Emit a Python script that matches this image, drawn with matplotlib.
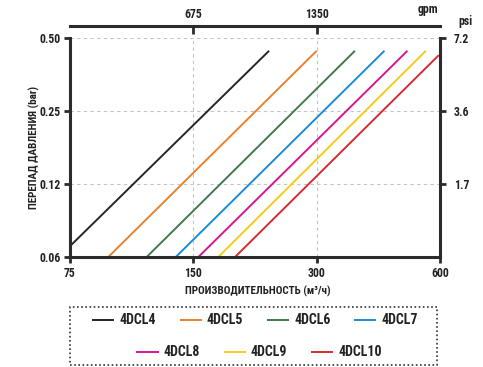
import matplotlib
matplotlib.use("Agg")
import matplotlib.pyplot as plt
from matplotlib.ticker import NullLocator

plt.rcParams['font.family'] = ['Roboto Condensed', 'Liberation Sans Narrow', 'Roboto', 'DejaVu Sans']
plt.rcParams['font.weight'] = 'bold'

# data (flow m3/h, pressure drop bar)
models = ['4DCL4', '4DCL5', '4DCL6', '4DCL7', '4DCL8', '4DCL9', '4DCL10']
q_start = [75.4, 93.0, 115.4, 135.9, 154.3, 172.6, 189.6]
dp_start = [0.0699, 0.0625, 0.0625, 0.0625, 0.0625, 0.0625, 0.0625]
q_end = [229.6, 300.0, 372.0, 439.0, 499.6, 554.0, 596.0]
dp_end = [0.444, 0.444, 0.444, 0.444, 0.444, 0.444, 0.426]
colors = ['#262626', '#e8822e', '#3f7a4c', '#1c8bd6', '#d8168e', '#f4cb1c', '#d62b2e']

x_ticks = [75, 150, 300, 600]
y_ticks = [0.0625, 0.125, 0.25, 0.5]
y_tick_labels = ['0.06', '0.12', '0.25', '0.50']
gpm_ticks = [150, 300]
gpm_labels = ['675', '1350']
psi_ticks = [0.125, 0.25, 0.5]
psi_labels = ['1.7', '3.6', '7.2']

W, H = 483, 367
fs = 8.5
fig = plt.figure(figsize=(W / 100, H / 100), dpi=100)
ax = fig.add_axes([70 / W, 1 - 257 / H, 370 / W, 218.7 / H])

lines = []
for m, x0, y0, x1, y1, c in zip(models, q_start, dp_start, q_end, dp_end, colors):
    ln, = ax.plot([x0, x1], [y0, y1], color=c, lw=1.4, label=m, solid_capstyle='butt')
    lines.append(ln)

spine_c = '#2b2b2b'
ax.set_xscale('log')
ax.set_yscale('log')
ax.set_xlim(75, 600)
ax.set_ylim(0.0625, 0.5)
ax.set_xticks(x_ticks)
ax.set_xticklabels([str(v) for v in x_ticks])
ax.set_yticks(y_ticks)
ax.set_yticklabels(y_tick_labels)
ax.xaxis.set_minor_locator(NullLocator())
ax.yaxis.set_minor_locator(NullLocator())
ax.tick_params(direction='out', length=4, width=2, color=spine_c, labelsize=fs,
               labelcolor='#222222', pad=3)
ax.grid(True, color='#c4c4c4', linestyle=(0, (3, 3)), lw=0.8)
for s in ['left', 'bottom']:
    ax.spines[s].set_linewidth(2.2)
    ax.spines[s].set_color(spine_c)
ax.spines['top'].set_visible(False)
ax.spines['right'].set_visible(False)

# psi axis on the right
axr = ax.twinx()
axr.set_yscale('log')
axr.set_ylim(ax.get_ylim())
axr.set_yticks(psi_ticks)
axr.set_yticklabels(psi_labels)
axr.yaxis.set_minor_locator(NullLocator())
axr.tick_params(direction='out', length=4, width=2, color=spine_c, labelsize=fs,
                labelcolor='#222222', pad=6)
for s in ['left', 'top', 'bottom']:
    axr.spines[s].set_visible(False)
axr.spines['right'].set_linewidth(2.2)
axr.spines['right'].set_color(spine_c)

# gpm axis on top
axt = ax.twiny()
axt.set_xscale('log')
axt.set_xlim(ax.get_xlim())
axt.set_xticks(gpm_ticks)
axt.set_xticklabels(gpm_labels)
axt.xaxis.set_minor_locator(NullLocator())
axt.tick_params(direction='in', length=6, width=2, color=spine_c, labelsize=fs,
                labelcolor='#222222', pad=4)
for s in ['left', 'right', 'bottom']:
    axt.spines[s].set_visible(False)
axt.spines['top'].set_position(('outward', 8.6))
axt.spines['top'].set_linewidth(2.2)
axt.spines['top'].set_color(spine_c)

fig.text(428 / W, 1 - 10 / H, 'gpm', ha='center', va='center', fontsize=fs, color='#222222')
fig.text(465 / W, 1 - 22 / H, 'psi', ha='center', va='center', fontsize=fs, color='#222222')
fig.text(34 / W, 1 - 147 / H, 'ПЕРЕПАД ДАВЛЕНИЯ (bar)', rotation=90, ha='center', va='center',
         fontsize=8, color='#222222')
fig.text(258 / W, 1 - 291 / H, 'ПРОИЗВОДИТЕЛЬНОСТЬ (м³/ч)', ha='center', va='center',
         fontsize=8, color='#222222')

# legend: dotted box with two rows
box = plt.Rectangle((70 / W, 1 - 365 / H), 367 / W, 58.5 / H, transform=fig.transFigure,
                    fill=False, linestyle=(0, (1, 1.5)), lw=1.2, edgecolor='#333333')
fig.patches.append(box)
leg_kw = dict(loc='center', frameon=False, fontsize=10, handlelength=1.6,
              handletextpad=0.36, columnspacing=1.7, borderpad=0, labelcolor='#222222')
fig.legend(lines[:4], models[:4], ncol=4, bbox_to_anchor=(255 / W, 1 - 320.5 / H), **leg_kw)
fig.legend(lines[4:], models[4:], ncol=3, bbox_to_anchor=(259 / W, 1 - 352.5 / H), **leg_kw)

fig.savefig('out.png', dpi=100)
